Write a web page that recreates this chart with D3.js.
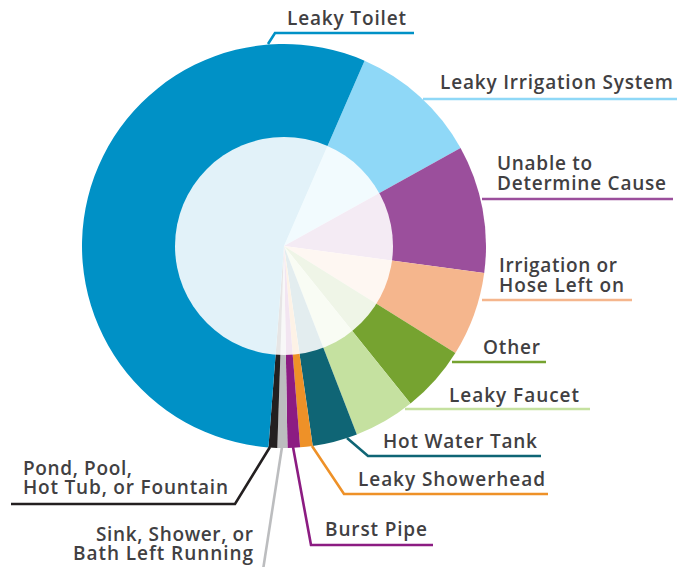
<!DOCTYPE html>
<html>
<head>
<meta charset="utf-8">
<script src="https://cdn.jsdelivr.net/npm/d3@7"></script>
<style>
  html, body { margin: 0; padding: 0; background: #ffffff; }
  svg { display: block; }
</style>
</head>
<body>
<svg id="chart" width="677" height="567"></svg>
<script>
// ---- data (clockwise from the top-right) ----
const categories = [
  "Leaky Irrigation System", "Unable to Determine Cause", "Irrigation or Hose Left on",
  "Other", "Leaky Faucet", "Hot Water Tank", "Leaky Showerhead", "Burst Pipe",
  "Sink, Shower, or Bath Left Running", "Pond, Pool, Hot Tub, or Fountain", "Leaky Toilet"
];
const values = [10.4, 10.2, 6.75, 5.35, 4.9, 3.6, 1.0, 1.0, 0.8, 0.7, 55.3];
const colors = ["#8fd8f7", "#9b4f9c", "#f5b68d", "#76a330", "#c5e1a0", "#0f6575",
                "#ee9128", "#8c1c82", "#bcbdbf", "#231f20", "#0091c6"];
const labelLines = [
  ["Leaky Irrigation System"], ["Unable to", "Determine Cause"], ["Irrigation or", "Hose Left on"],
  ["Other"], ["Leaky Faucet"], ["Hot Water Tank"], ["Leaky Showerhead"], ["Burst Pipe"],
  ["Sink, Shower, or", "Bath Left Running"], ["Pond, Pool,", "Hot Tub, or Fountain"], ["Leaky Toilet"]
];

// ---- layout (annotation placement) ----
const cx = 284, cy = 246, R = 202, rInner = 109;
const startDeg = 23.5;
const labelPos = [
  {x: 440, y: [89], anchor: "start", w: [233]},
  {x: 497, y: [170, 190], anchor: "start", w: [95, 169]},
  {x: 499, y: [272, 292], anchor: "start", w: [118, 125]},
  {x: 483, y: [354], anchor: "start", w: [57]},
  {x: 449, y: [402], anchor: "start", w: [130]},
  {x: 383, y: [448], anchor: "start", w: [154]},
  {x: 358, y: [486], anchor: "start", w: [187]},
  {x: 325, y: [536], anchor: "start", w: [102]},
  {x: 253, y: [541, 560], anchor: "end", w: [157, 180]},
  {x: 23,  y: [475, 494], anchor: "start", w: [109, 205]},
  {x: 287, y: [25], anchor: "start", w: [119]}
];
const leaders = [
  [[423, 99], [677, 99]],
  [[482, 199], [673, 199]],
  [[482, 300], [632, 300]],
  [[452, 362], [546, 362]],
  [[405, 409], [590, 409]],
  [[347, 438], [368, 456], [541, 456]],
  [[312, 446], [344, 494], [548, 494]],
  [[293, 447], [311, 545], [433, 545]],
  [[282, 447], [263, 570]],
  [[270, 447], [235, 504], [11, 504]],
  [[268, 44], [275, 33], [414, 33]]
];

const svg = d3.select("#chart");
const data = categories.map((c, i) => ({name: c, value: values[i], color: colors[i], lines: labelLines[i], pos: labelPos[i], leader: leaders[i]}));

const pie = d3.pie().sort(null).value(d => d.value)
  .startAngle(startDeg * Math.PI / 180)
  .endAngle(startDeg * Math.PI / 180 + 2 * Math.PI);
const arc = d3.arc().innerRadius(0).outerRadius(R);

const g = svg.append("g").attr("transform", `translate(${cx},${cy})`);
g.selectAll("path.slice").data(pie(data)).join("path")
  .attr("class", "slice")
  .attr("d", arc)
  .attr("fill", d => d.data.color);

g.append("circle").attr("r", rInner).attr("fill", "#ffffff").attr("fill-opacity", 0.885);

// leader lines
const line = d3.line();
svg.selectAll("path.leader").data(data).join("path")
  .attr("class", "leader")
  .attr("d", d => line(d.leader))
  .attr("fill", "none")
  .attr("stroke", d => d.color)
  .attr("stroke-width", 2.6)
  .attr("stroke-linejoin", "miter");

// labels
const lg = svg.append("g")
  .attr("font-family", "'Open Sans', 'Noto Sans', sans-serif")
  .attr("font-size", 19)
  .attr("font-weight", 600)
  .attr("fill", "#414042");
data.forEach(d => {
  d.lines.forEach((t, j) => {
    lg.append("text")
      .attr("x", d.pos.x)
      .attr("y", d.pos.y[j])
      .attr("text-anchor", d.pos.anchor)
      .attr("textLength", d.pos.w[j])
      .attr("lengthAdjust", "spacing")
      .text(t);
  });
});
</script>
</body>
</html>
